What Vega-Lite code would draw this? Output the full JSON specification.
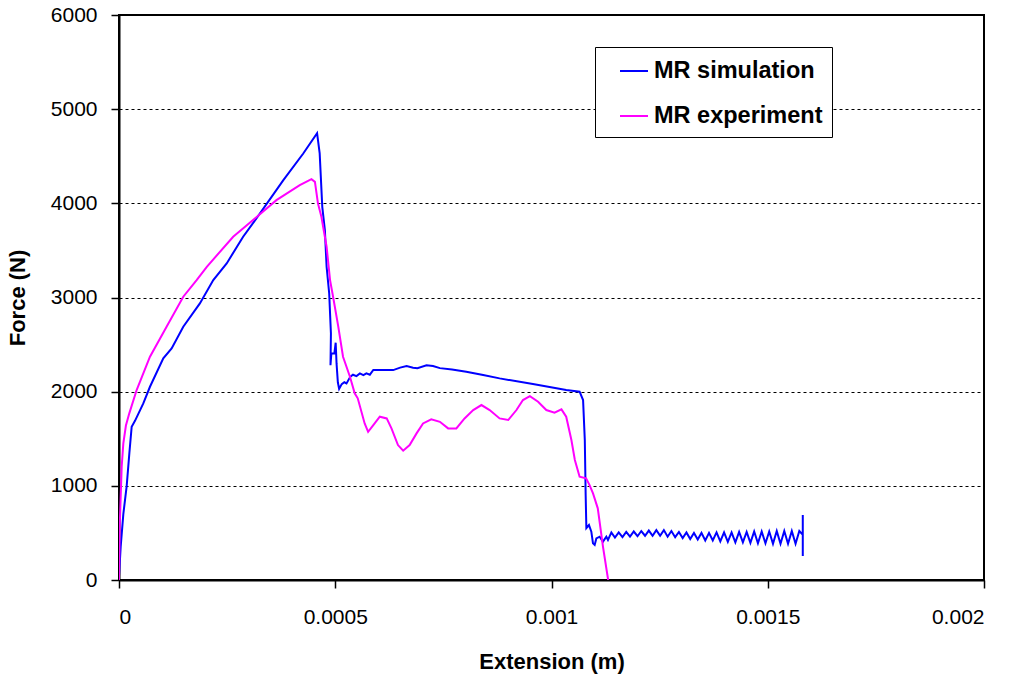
{
  "$schema": "https://vega.github.io/schema/vega-lite/v6.json",
  "width": 865,
  "height": 565,
  "autosize": {"type": "none"},
  "padding": {"left": 119, "top": 15, "right": 31, "bottom": 97},
  "background": "white",
  "config": {
    "font": "Liberation Sans",
    "view": {"stroke": "black", "strokeWidth": 2},
    "axis": {
      "labelFont": "Liberation Sans",
      "titleFont": "Liberation Sans",
      "labelColor": "black",
      "titleColor": "black",
      "labelFontSize": 21,
      "titleFontSize": 22,
      "titleFontWeight": "bold",
      "domainColor": "black",
      "domainWidth": 2,
      "tickColor": "black",
      "tickWidth": 1.5,
      "tickSize": 8
    }
  },
  "data": {
    "values": [
      {"s": "MR simulation", "x": 0, "y": 40},
      {"s": "MR simulation", "x": 0.0000039, "y": 354},
      {"s": "MR simulation", "x": 0.0000100, "y": 700},
      {"s": "MR simulation", "x": 0.0000178, "y": 1000},
      {"s": "MR simulation", "x": 0.0000240, "y": 1350},
      {"s": "MR simulation", "x": 0.0000293, "y": 1628},
      {"s": "MR simulation", "x": 0.0000370, "y": 1690},
      {"s": "MR simulation", "x": 0.0000562, "y": 1875},
      {"s": "MR simulation", "x": 0.0000716, "y": 2052},
      {"s": "MR simulation", "x": 0.0001024, "y": 2354},
      {"s": "MR simulation", "x": 0.0001217, "y": 2460},
      {"s": "MR simulation", "x": 0.0001486, "y": 2690},
      {"s": "MR simulation", "x": 0.0001870, "y": 2937},
      {"s": "MR simulation", "x": 0.0002180, "y": 3185},
      {"s": "MR simulation", "x": 0.0002490, "y": 3362},
      {"s": "MR simulation", "x": 0.0002870, "y": 3645},
      {"s": "MR simulation", "x": 0.0003260, "y": 3893},
      {"s": "MR simulation", "x": 0.0003800, "y": 4246},
      {"s": "MR simulation", "x": 0.0004260, "y": 4529},
      {"s": "MR simulation", "x": 0.0004580, "y": 4745},
      {"s": "MR simulation", "x": 0.0004640, "y": 4530},
      {"s": "MR simulation", "x": 0.0004700, "y": 3963},
      {"s": "MR simulation", "x": 0.0004760, "y": 3715},
      {"s": "MR simulation", "x": 0.0004800, "y": 3326},
      {"s": "MR simulation", "x": 0.0004860, "y": 3043},
      {"s": "MR simulation", "x": 0.0004900, "y": 2619},
      {"s": "MR simulation", "x": 0.0004890, "y": 2280},
      {"s": "MR simulation", "x": 0.0004910, "y": 2406},
      {"s": "MR simulation", "x": 0.0004980, "y": 2406},
      {"s": "MR simulation", "x": 0.0005010, "y": 2520},
      {"s": "MR simulation", "x": 0.0005030, "y": 2300},
      {"s": "MR simulation", "x": 0.0005060, "y": 2100},
      {"s": "MR simulation", "x": 0.0005090, "y": 2030},
      {"s": "MR simulation", "x": 0.0005150, "y": 2080},
      {"s": "MR simulation", "x": 0.0005210, "y": 2100},
      {"s": "MR simulation", "x": 0.0005260, "y": 2088},
      {"s": "MR simulation", "x": 0.0005350, "y": 2160},
      {"s": "MR simulation", "x": 0.0005410, "y": 2180},
      {"s": "MR simulation", "x": 0.0005490, "y": 2165},
      {"s": "MR simulation", "x": 0.0005570, "y": 2194},
      {"s": "MR simulation", "x": 0.0005650, "y": 2176},
      {"s": "MR simulation", "x": 0.0005720, "y": 2195},
      {"s": "MR simulation", "x": 0.0005800, "y": 2180},
      {"s": "MR simulation", "x": 0.0005880, "y": 2230},
      {"s": "MR simulation", "x": 0.0006030, "y": 2229},
      {"s": "MR simulation", "x": 0.0006340, "y": 2229},
      {"s": "MR simulation", "x": 0.0006500, "y": 2255},
      {"s": "MR simulation", "x": 0.0006650, "y": 2272},
      {"s": "MR simulation", "x": 0.0006800, "y": 2255},
      {"s": "MR simulation", "x": 0.0006900, "y": 2250},
      {"s": "MR simulation", "x": 0.0007110, "y": 2280},
      {"s": "MR simulation", "x": 0.0007260, "y": 2272},
      {"s": "MR simulation", "x": 0.0007420, "y": 2250},
      {"s": "MR simulation", "x": 0.0007700, "y": 2236},
      {"s": "MR simulation", "x": 0.0008030, "y": 2211},
      {"s": "MR simulation", "x": 0.0008420, "y": 2176},
      {"s": "MR simulation", "x": 0.0008800, "y": 2141},
      {"s": "MR simulation", "x": 0.0009570, "y": 2081},
      {"s": "MR simulation", "x": 0.0010340, "y": 2017},
      {"s": "MR simulation", "x": 0.0010650, "y": 2000},
      {"s": "MR simulation", "x": 0.0010730, "y": 1911},
      {"s": "MR simulation", "x": 0.0010770, "y": 1486},
      {"s": "MR simulation", "x": 0.0010790, "y": 900},
      {"s": "MR simulation", "x": 0.0010806, "y": 552},
      {"s": "MR simulation", "x": 0.0010866, "y": 584},
      {"s": "MR simulation", "x": 0.0010921, "y": 513},
      {"s": "MR simulation", "x": 0.0010959, "y": 389},
      {"s": "MR simulation", "x": 0.0010998, "y": 372},
      {"s": "MR simulation", "x": 0.0011037, "y": 442},
      {"s": "MR simulation", "x": 0.0011113, "y": 460},
      {"s": "MR simulation", "x": 0.0011190, "y": 407},
      {"s": "MR simulation", "x": 0.0011268, "y": 460},
      {"s": "MR simulation", "x": 0.0011306, "y": 425},
      {"s": "MR simulation", "x": 0.0011384, "y": 505},
      {"s": "MR simulation", "x": 0.0011467, "y": 450},
      {"s": "MR simulation", "x": 0.0011554, "y": 505},
      {"s": "MR simulation", "x": 0.0011641, "y": 455},
      {"s": "MR simulation", "x": 0.0011728, "y": 510},
      {"s": "MR simulation", "x": 0.0011815, "y": 460},
      {"s": "MR simulation", "x": 0.0011902, "y": 515},
      {"s": "MR simulation", "x": 0.0011989, "y": 465},
      {"s": "MR simulation", "x": 0.0012076, "y": 520},
      {"s": "MR simulation", "x": 0.0012163, "y": 470},
      {"s": "MR simulation", "x": 0.0012250, "y": 525},
      {"s": "MR simulation", "x": 0.0012337, "y": 470},
      {"s": "MR simulation", "x": 0.0012424, "y": 530},
      {"s": "MR simulation", "x": 0.0012511, "y": 470},
      {"s": "MR simulation", "x": 0.0012598, "y": 530},
      {"s": "MR simulation", "x": 0.0012685, "y": 460},
      {"s": "MR simulation", "x": 0.0012772, "y": 520},
      {"s": "MR simulation", "x": 0.0012859, "y": 455},
      {"s": "MR simulation", "x": 0.0012946, "y": 510},
      {"s": "MR simulation", "x": 0.0013033, "y": 445},
      {"s": "MR simulation", "x": 0.0013120, "y": 505},
      {"s": "MR simulation", "x": 0.0013207, "y": 435},
      {"s": "MR simulation", "x": 0.0013294, "y": 500},
      {"s": "MR simulation", "x": 0.0013381, "y": 430},
      {"s": "MR simulation", "x": 0.0013468, "y": 500},
      {"s": "MR simulation", "x": 0.0013555, "y": 420},
      {"s": "MR simulation", "x": 0.0013642, "y": 500},
      {"s": "MR simulation", "x": 0.0013729, "y": 420},
      {"s": "MR simulation", "x": 0.0013816, "y": 505},
      {"s": "MR simulation", "x": 0.0013903, "y": 410},
      {"s": "MR simulation", "x": 0.0013990, "y": 505},
      {"s": "MR simulation", "x": 0.0014077, "y": 405},
      {"s": "MR simulation", "x": 0.0014164, "y": 505},
      {"s": "MR simulation", "x": 0.0014251, "y": 400},
      {"s": "MR simulation", "x": 0.0014338, "y": 510},
      {"s": "MR simulation", "x": 0.0014425, "y": 400},
      {"s": "MR simulation", "x": 0.0014512, "y": 510},
      {"s": "MR simulation", "x": 0.0014599, "y": 395},
      {"s": "MR simulation", "x": 0.0014686, "y": 515},
      {"s": "MR simulation", "x": 0.0014773, "y": 390},
      {"s": "MR simulation", "x": 0.0014860, "y": 515},
      {"s": "MR simulation", "x": 0.0014947, "y": 390},
      {"s": "MR simulation", "x": 0.0015034, "y": 515},
      {"s": "MR simulation", "x": 0.0015121, "y": 385},
      {"s": "MR simulation", "x": 0.0015208, "y": 520},
      {"s": "MR simulation", "x": 0.0015295, "y": 385},
      {"s": "MR simulation", "x": 0.0015382, "y": 520},
      {"s": "MR simulation", "x": 0.0015469, "y": 385},
      {"s": "MR simulation", "x": 0.0015556, "y": 520},
      {"s": "MR simulation", "x": 0.0015643, "y": 385},
      {"s": "MR simulation", "x": 0.0015730, "y": 520},
      {"s": "MR simulation", "x": 0.0015810, "y": 480},
      {"s": "MR simulation", "x": 0.0015810, "y": 690},
      {"s": "MR simulation", "x": 0.0015810, "y": 255},
      {"s": "MR experiment", "x": 0, "y": 0},
      {"s": "MR experiment", "x": 0.0000016, "y": 566},
      {"s": "MR experiment", "x": 0.0000062, "y": 1203},
      {"s": "MR experiment", "x": 0.0000100, "y": 1451},
      {"s": "MR experiment", "x": 0.0000160, "y": 1640},
      {"s": "MR experiment", "x": 0.0000238, "y": 1770},
      {"s": "MR experiment", "x": 0.0000408, "y": 2017},
      {"s": "MR experiment", "x": 0.0000716, "y": 2371},
      {"s": "MR experiment", "x": 0.0001100, "y": 2690},
      {"s": "MR experiment", "x": 0.0001486, "y": 3008},
      {"s": "MR experiment", "x": 0.0001795, "y": 3185},
      {"s": "MR experiment", "x": 0.0002030, "y": 3326},
      {"s": "MR experiment", "x": 0.0002640, "y": 3645},
      {"s": "MR experiment", "x": 0.0003100, "y": 3822},
      {"s": "MR experiment", "x": 0.0003640, "y": 4034},
      {"s": "MR experiment", "x": 0.0004180, "y": 4193},
      {"s": "MR experiment", "x": 0.0004450, "y": 4257},
      {"s": "MR experiment", "x": 0.0004530, "y": 4228},
      {"s": "MR experiment", "x": 0.0004600, "y": 3999},
      {"s": "MR experiment", "x": 0.0004680, "y": 3857},
      {"s": "MR experiment", "x": 0.0004800, "y": 3539},
      {"s": "MR experiment", "x": 0.0004880, "y": 3185},
      {"s": "MR experiment", "x": 0.0004950, "y": 3008},
      {"s": "MR experiment", "x": 0.0005070, "y": 2690},
      {"s": "MR experiment", "x": 0.0005180, "y": 2371},
      {"s": "MR experiment", "x": 0.0005340, "y": 2159},
      {"s": "MR experiment", "x": 0.0005450, "y": 1982},
      {"s": "MR experiment", "x": 0.0005520, "y": 1929},
      {"s": "MR experiment", "x": 0.0005680, "y": 1663},
      {"s": "MR experiment", "x": 0.0005760, "y": 1574},
      {"s": "MR experiment", "x": 0.0005880, "y": 1645},
      {"s": "MR experiment", "x": 0.0006030, "y": 1734},
      {"s": "MR experiment", "x": 0.0006190, "y": 1716},
      {"s": "MR experiment", "x": 0.0006300, "y": 1610},
      {"s": "MR experiment", "x": 0.0006450, "y": 1433},
      {"s": "MR experiment", "x": 0.0006570, "y": 1373},
      {"s": "MR experiment", "x": 0.0006720, "y": 1433},
      {"s": "MR experiment", "x": 0.0006880, "y": 1557},
      {"s": "MR experiment", "x": 0.0007030, "y": 1663},
      {"s": "MR experiment", "x": 0.0007220, "y": 1706},
      {"s": "MR experiment", "x": 0.0007420, "y": 1680},
      {"s": "MR experiment", "x": 0.0007610, "y": 1610},
      {"s": "MR experiment", "x": 0.0007800, "y": 1610},
      {"s": "MR experiment", "x": 0.0007990, "y": 1716},
      {"s": "MR experiment", "x": 0.0008190, "y": 1805},
      {"s": "MR experiment", "x": 0.0008380, "y": 1858},
      {"s": "MR experiment", "x": 0.0008570, "y": 1805},
      {"s": "MR experiment", "x": 0.0008800, "y": 1716},
      {"s": "MR experiment", "x": 0.0009000, "y": 1699},
      {"s": "MR experiment", "x": 0.0009190, "y": 1805},
      {"s": "MR experiment", "x": 0.0009340, "y": 1911},
      {"s": "MR experiment", "x": 0.0009500, "y": 1953},
      {"s": "MR experiment", "x": 0.0009690, "y": 1893},
      {"s": "MR experiment", "x": 0.0009880, "y": 1805},
      {"s": "MR experiment", "x": 0.0010070, "y": 1777},
      {"s": "MR experiment", "x": 0.0010230, "y": 1812},
      {"s": "MR experiment", "x": 0.0010340, "y": 1734},
      {"s": "MR experiment", "x": 0.0010460, "y": 1486},
      {"s": "MR experiment", "x": 0.0010540, "y": 1274},
      {"s": "MR experiment", "x": 0.0010650, "y": 1097},
      {"s": "MR experiment", "x": 0.0010800, "y": 1080},
      {"s": "MR experiment", "x": 0.0010880, "y": 1008},
      {"s": "MR experiment", "x": 0.0010960, "y": 920},
      {"s": "MR experiment", "x": 0.0011070, "y": 761},
      {"s": "MR experiment", "x": 0.0011190, "y": 354},
      {"s": "MR experiment", "x": 0.0011310, "y": 0}
    ]
  },
  "mark": {"type": "line", "strokeWidth": 2, "clip": true},
  "encoding": {
    "x": {
      "field": "x",
      "type": "quantitative",
      "title": "Extension (m)",
      "scale": {"domain": [0, 0.002], "nice": false, "zero": false},
      "axis": {
        "values": [0, 0.0005, 0.001, 0.0015, 0.002],
        "format": "~g",
        "grid": false,
        "labelPadding": 18,
        "titlePadding": 24
      }
    },
    "y": {
      "field": "y",
      "type": "quantitative",
      "title": "Force (N)",
      "scale": {"domain": [0, 6000], "nice": false},
      "axis": {
        "values": [0, 1000, 2000, 3000, 4000, 5000, 6000],
        "format": "d",
        "grid": true,
        "gridColor": "black",
        "gridDash": [3, 3],
        "gridWidth": 1,
        "labelPadding": 14,
        "titlePadding": 21
      }
    },
    "color": {
      "field": "s",
      "type": "nominal",
      "scale": {
        "domain": ["MR simulation", "MR experiment"],
        "range": ["#0000ff", "#ff00ff"]
      },
      "legend": {
        "title": null,
        "orient": "none",
        "legendX": 476,
        "legendY": 32,
        "fillColor": "white",
        "strokeColor": "black",
        "padding": 9,
        "rowPadding": 18,
        "symbolType": "stroke",
        "symbolSize": 784,
        "symbolStrokeWidth": 2,
        "symbolOffset": 15,
        "labelOffset": 5,
        "labelFont": "Liberation Sans",
        "labelFontSize": 23.5,
        "labelFontWeight": "bold",
        "labelColor": "black",
        "labelLimit": 400
      }
    },
    "order": {"value": null}
  }
}
